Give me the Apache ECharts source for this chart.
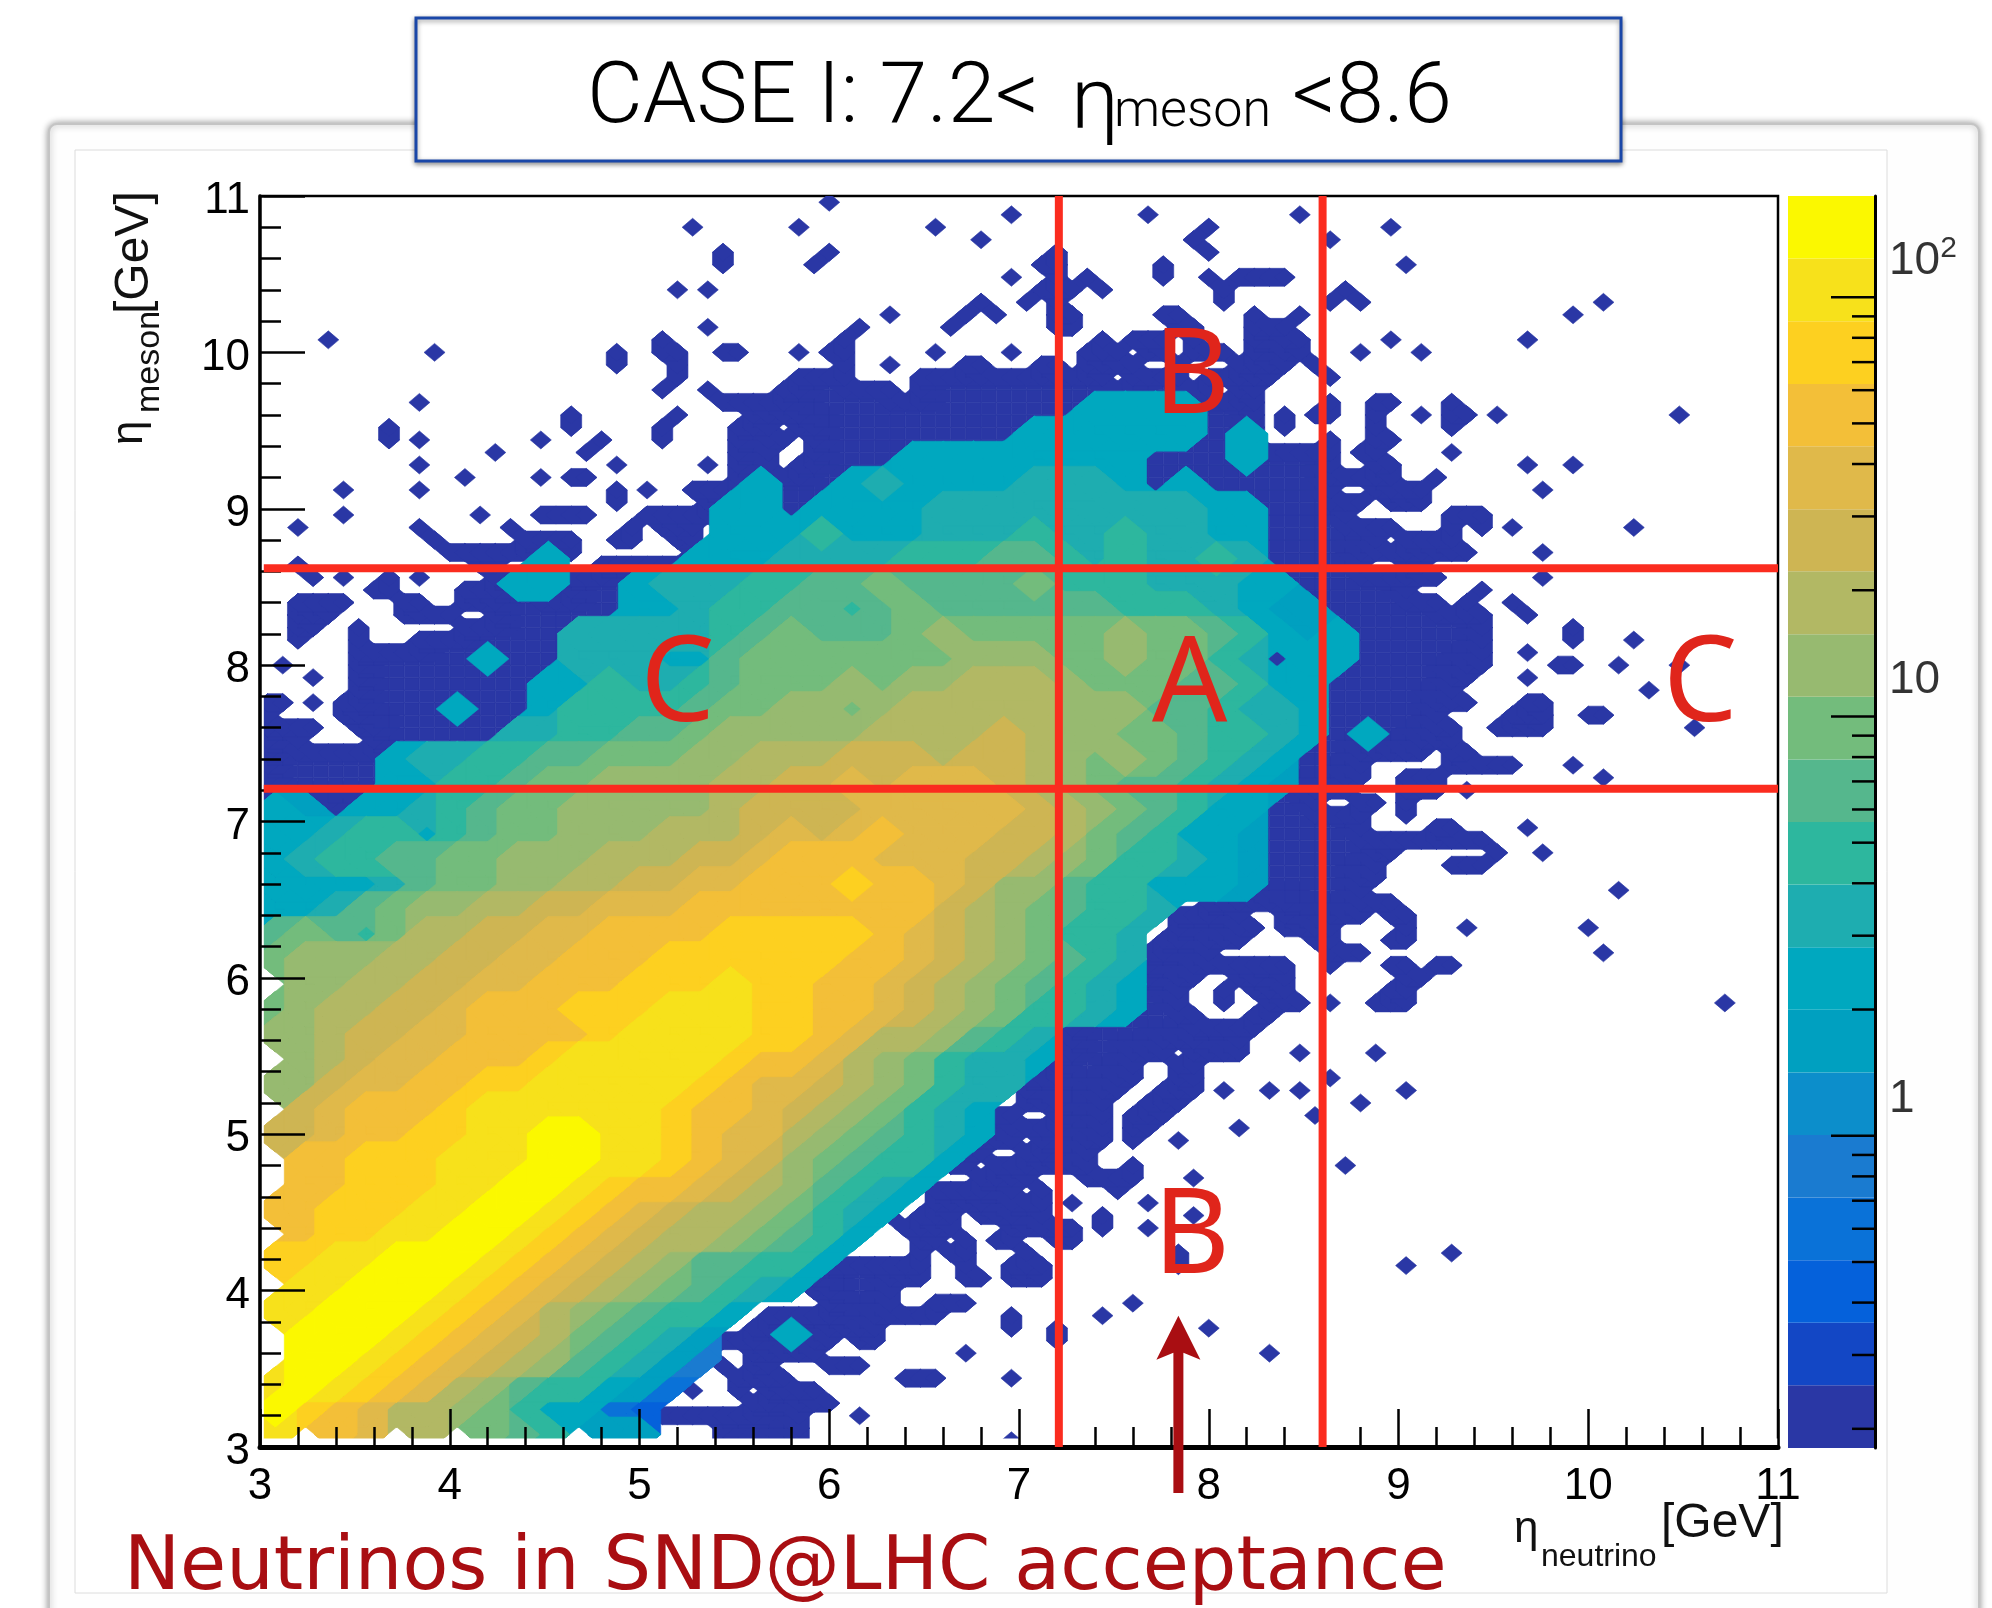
<!DOCTYPE html>
<html><head><meta charset="utf-8"><style>html,body{margin:0;padding:0;background:#fff}#c{width:1992px;height:1608px}</style>
<script src="https://cdn.jsdelivr.net/npm/echarts@6/dist/echarts.min.js"></script></head><body><div id="c"></div>
<script>
const bandColors=['#2a37a5','#1347c5','#0561db','#0a72d8','#1a7bd0','#0c8ecb','#00a0c0','#00a8bf','#1eadb0','#2db79e','#55b78d','#73bc7c','#97ba70','#b2b864','#ceb553','#e0b94a','#f3bf38','#fdd020','#f7e11b','#fbf800'];
const bandEdges=[0.18,0.254,0.358,0.505,0.712,1.004,1.416,1.997,2.816,3.972,5.6,7.9,11.14,15.71,22.2,31.2,44.1,62.1,87.6,123.6,174.3];
const colorMajorTicks=[1,10,100];
const colorMinorTicks=[0.2,0.3,0.4,0.5,0.6,0.7,0.8,0.9,2,3,4,5,6,7,8,9,20,30,40,50,60,70,80,90];
const colorLabels=[[1,'{a|1}'],[10,'{a|10}'],[100,'{a|10}{b|2}']];
// sparse, lowest-band bins (0.08 wide): "row:col,col-col"
const lowRows=["99:37","98:49,58,68","97:28,35,44,62,74","96:47,61,70","95:30,37,52,62","94:30,36,51-52,59,75","93:49,52,54,59,62,64-67","92:27,29,51-53,55,63,71","91:47,50,52,63,70,72,88","90:41,46,48,52-53,59-60,65,68,86","89:29,39,45,52-53,60-61,65-67","88:4,26,38,55,57-59,61,65-68,74,83","87:11,23,26-27,30-31,35,37-38,44,49,54-56,58-59,61-63,65-68,72,76","86:23,27,38,41,46-47,51-52,54-57,60,64-67,69","85:27,35-38,43-55,57-60,62-66,70","84:26,29,34-41,43-62,64-65","83:10,30-65,70,73-74,78","82:20,27,32-65,67,69-70,73,76,78-79,81,93","81:8,20,26,31-33,35-65,67,73,78","80:8,10,18,22,26,31-34,36-65,70,73-74","79:15,21,31-33,36-70,72-73,78","78:10,23,29,31-33,35-70,73-74,83,86","77:13,18,20-21,31-74,77","76:5,10,23,25,28-70,73-76,84","75:23,29-72,74-76","74:5,14,18-21,25-71,78-80","73:2,10,16,24,26-28,30-74,78,80,82,90","72:11,17-20,23-24,27-28,30-73,75-78","71:12-20,28-79,84","70:2,14-15,22-72,75-76","69:3,5,8,10,15-77,84","68:7-8,13-18,20-75,80","67:2-5,9-10,13-77,79,82","66:2-4,9-12,15-80,83","65:2-3,6,13-80,86","64:2,6,10-80,86,90","63:6-80,83","62:1,6-80,85-86,89,93","61:3,6-79,83","60:6-78,91","59:0-1,3,5-79,83-84","58:0,5-77,82-84,87-88","57:0-3,6-78,81-84,94","56:0-2,7-78","55:0-76,78-79","54:0-72,78-82,86","53:0-72,75-77,88","52:0-71,75-77,79","51:0-69,72-73,75","50:4-6,60-72,75","49:60-72,77-78,83","48:60-80","47:60-74,81,84","46:60-73,78-80","45:62-73","44:64-72,89","43:62-74","42:60-64,67-72,74-75","41:60-65,67-70,75,79,87","40:59-64,69-70,74-75","39:58-62,70-72,88","38:58-67,70,74-75,77-78","37:57-61,64-67,75-76","36:56-60,63,65-67,74-75","35:55-60,63,66-68,70,73-75,96","34:53-61,65-66","33:53-65","32:53-64","31:52-59,61-64,68,73","30:52-57,60-61","29:50-57,60-61,70","28:50-56,59-61,63,66,68,75","27:50-55,58-60,72","26:46-49,52-55,57-59,69","25:46-55,57-58,64","24:45-49,51-55,57,60","23:44-47,50-54","22:45-46,48-54,57,71","21:47-50,54-57,61","20:44-49,51,56","19:44-51,53,58","18:41,43-45,47-51,55,61","17:42-45,49-53,55,58","16:43-44,46,48-49,52-53","15:43,45-46,50,60,78","14:35-43,46,49-51,60,75","13:35-43,46-47,49-51","12:36-41","11:37-41,44-46,57","10:33-44,49,55","9:32-40,49,52,62","8:30-37,39-40,52","7:29,32-36,46,66","6:30,32-33,37-39","5:31-34,42-44,49","4:28,31,33-36","3:32-37","2:24,26-35,39","1:24,30-35","0:24,30-35,49"];
// dense bins (0.16 wide), top row first; letter = band number (a=1 ... t=20), '.' = none
const coreRows=[
".......... .......... .......hhh h",
".......... .......... .....hhhhh h.h",
".......... .......... .hhhhhhhh. ..h",
".......... ......h..h ihhhhiiih. h",
".......... .....hh.hh hhiiiiiiii ihh",
".......... .....hhhjh hhiiijiiji ihh",
".........h ....hhhiii ijjjkkjiji iji",
"........hh ..hiiijjkk lkkkkljjji iihh",
".......... ..hhijjkkj klkkkkkkjj jihgg",
".......... iiiiijklkk klmlllllml lkjhgh",
".......h.. iiihhkllll lllmmmllml lji.hh",
".........h hjiijklllm lmmnnnmlll kkjhh",
"......h..h jjjjkllmml mnnnnnmmmk kjiih",
"........ii jjkklmmmmm nnnnonmmll kjjih.h",
"....hiijjk klllmmnnno oonoonmlml kjih",
"....hhjjkl lmmmmnnoop oppponmlkk jihg",
"hg.hhijkll mmmmmnoooo ppppponmlk jhh",
"hhijjhjkll mmmnnnopop qpppoonlkj hhg",
"hijjkkllmm mnnnoopqqq pppoonmljj ihg",
"hhhhikllmm nnoopp qqqr qqpommkjjh hhg",
"hhiklmmnno opppqqqqqq qqonmlkjji",
"klkjlnnoop pqqqqrrrrr qponmljji.",
"lmmmnnoopp qqqrrrrrrq qponmlkji.",
".mmnnooppq qqrrrsrrqq ponmlkjih.",
"lmnnoopqqq rrrsssrrqq ponmljjih.",
"mmnooppqqq qrssssrrqp nnmkji....",
".mnoppqqqr sssssrqqpn mljiih....",
"mmoppqqrrs ssssrqppon mljii.....",
".opqqqrsss sssrqqponm ljih......",
"oopqqrrsst tssrqppnml kjih......",
".qqrrrssst tssrqpomlk jjh.......",
".qqrrrsstt srqqponmkj ih........",
"qqrrrsstts rqponnmlji h.........",
".qrrssttsr qponnmlkjh",
"rrsstttsrq ponmkkjjh.",
".sstttsrqp onmlkjih..",
"sstttsrqpn mlkjjh....",
".tttsrqpon lkjig..h..",
".ttsrqponm kjige.....",
"stsrqpnmkj jhgd......",
"trqpnnmljh hdc.......",
"s.qp.n.lkj .gg......."];
const xTicks=[3,11], yTicks=[3,11];
const redH=[8.62,7.21], redV=[7.21,8.6];
const letters=['B','B','A','C','C'], letterX=[7.91,7.91,7.9,5.2,10.59], letterY=[9.83,4.33,7.86,7.86,7.86];
const arrowTip=[7.84,3.84], arrowBase=[7.84,2.706];
const edgeMask=[[3,3,11,3.055],[3,3,3.02,11]];

const shapes=[];
function addRegion(get,nc,nr,cell,rx,ry,constant){
  const on=(i,j)=>(i>=0&&j>=0&&i<nc&&j<nr)?get(i,j):0;
  for(let j=0;j<nr;j++)for(let i=0;i<nc;i++){
    const v=on(i,j); if(!v)continue;
    const cx=i2=>3+cell*(i2+.5), cy=j2=>3+cell*(j2+.5);
    let inner=constant;
    if(inner){for(let a=-1;a<=1;a++)for(let b=-1;b<=1;b++)if(!on(i+a,j+b))inner=false;}
    if(!inner)shapes.push([cx(i),cy(j),cx(i),cy(j),rx,ry,v,0]);
    [[1,0],[0,1],[1,1],[-1,1]].forEach(d=>{
      const w=on(i+d[0],j+d[1]); if(!w||inner)return;
      shapes.push([cx(i),cy(j),cx(i+d[0]),cy(j+d[1]),rx,ry,Math.min(v,w),0]);
    });
    const a=on(i+1,j),b=on(i,j+1),c=on(i+1,j+1);
    if(a&&b&&c)shapes.push([cx(i),cy(j),cx(i+1),cy(j+1),0,0,Math.min(v,a,b,c),1]);
  }
}
const lowSet=new Set();
lowRows.forEach(r=>{const [j,rest]=r.split(':');rest.split(',').forEach(t=>{const [a,b]=t.split('-').map(Number);for(let i=a;i<=(b===undefined?a:b);i++)lowSet.add(i+j*100);});});
addRegion((i,j)=>lowSet.has(i+j*100)?1:0,100,100,0.08,0.0553,0.0575,true);
const coreClean=coreRows.map(r=>r.replace(/ /g,''));
const coreTop=coreClean.length-1;
addRegion((i,j)=>{if(j>coreTop)return 0;const ch=coreClean[coreTop-j][i];return(!ch||ch==='.')?0:ch.charCodeAt(0)-96;},50,50,0.16,0.112,0.112,false);
shapes.sort((p,q)=>p[6]-q[6]);

function hull(pts){
  pts=pts.slice().sort((a,b)=>a[0]-b[0]||a[1]-b[1]);
  const cr=(o,a,b)=>(a[0]-o[0])*(b[1]-o[1])-(a[1]-o[1])*(b[0]-o[0]);
  const lo=[],up=[];
  pts.forEach(p=>{while(lo.length>1&&cr(lo[lo.length-2],lo[lo.length-1],p)<=0)lo.pop();lo.push(p);});
  pts.slice().reverse().forEach(p=>{while(up.length>1&&cr(up[up.length-2],up[up.length-1],p)<=0)up.pop();up.push(p);});
  lo.pop();up.pop();return lo.concat(up);
}
function renderShape(params,api){
  const x0=api.value(0),y0=api.value(1),x1=api.value(2),y1=api.value(3),rx=api.value(4),ry=api.value(5),lv=api.value(6),kind=api.value(7);
  const col=bandColors[lv-1];
  let pts;
  if(kind===1){pts=[[x0,y0],[x1,y0],[x1,y1],[x0,y1]].map(p=>api.coord(p));}
  else{
    const raw=[];
    [[x0,y0],[x1,y1]].forEach(c=>{raw.push([c[0]-rx,c[1]],[c[0]+rx,c[1]],[c[0],c[1]-ry],[c[0],c[1]+ry]);});
    pts=hull(raw.map(p=>api.coord(p)));
  }
  return {type:'polygon',shape:{points:pts},style:{fill:col,stroke:col,lineWidth:0.6},silent:true};
}
function text(t,x,y,size,opt){
  opt=opt||{};
  return {type:'text',x:x,y:y,rotation:opt.rot||0,z:opt.z||20,silent:true,style:{text:t,fontSize:size,fontFamily:opt.font||'"Liberation Sans"',fontWeight:opt.weight||'normal',fill:opt.color||'#111',align:opt.align||'left',verticalAlign:'middle'}};
}
const graphics=[
 {type:'rect',z:-5,silent:true,shape:{x:49,y:124,width:1930,height:1600,r:8},style:{fill:'#fefefe',stroke:'#c4c4c4',lineWidth:2,shadowBlur:7,shadowColor:'rgba(0,0,0,.4)'}},
 {type:'rect',z:-4,silent:true,shape:{x:75,y:150,width:1812,height:1443},style:{fill:'#fff',stroke:'#dcdcdc',lineWidth:1}},
 {type:'rect',z:15,silent:true,shape:{x:416,y:18,width:1205,height:143},style:{fill:'#fff',stroke:'#1a47a8',lineWidth:3,shadowBlur:5,shadowOffsetY:2,shadowColor:'rgba(0,0,0,.4)'}},
 text('CASE I: 7.2<',587,100,86,{font:'Roboto',weight:300,color:'#000'}),
 text('η',1071,106,86,{font:'Roboto',weight:300,color:'#000'}),
 text('meson',1114,113,52,{font:'Roboto',weight:300,color:'#000'}),
 text('<8.6',1292,100,86,{font:'Roboto',weight:300,color:'#000'}),
 text('Neutrinos in SND@LHC acceptance',124,1570,75,{font:'"DejaVu Sans"',color:'#a90e12'}),
 text('η',1514,1530,44),
 text('neutrino',1541,1557,32),
 text('[GeV]',1661,1524,48),
 text('[GeV]',135,314,48,{rot:Math.PI/2}),
 text('meson',150,413,34,{rot:Math.PI/2}),
 text('η',130,445,44,{rot:Math.PI/2})
];
const axisCommon={type:'value',min:3,max:11,interval:1,z:5,splitLine:{show:false},
  axisLabel:{fontFamily:'"Liberation Sans"',fontSize:44,color:'#111',margin:14,showMinLabel:true,showMaxLabel:true},
  axisTick:{inside:true,lineStyle:{color:'#000',width:2.5}},
  minorTick:{show:true,splitNumber:5,lineStyle:{color:'#000',width:2.5}}};
const series=[
 {type:'custom',xAxisIndex:0,yAxisIndex:0,z:2,clip:true,silent:true,animation:false,progressive:0,renderItem:renderShape,encode:{x:[0,2],y:[1,3]},data:shapes},
 {type:'custom',xAxisIndex:0,yAxisIndex:0,z:3,clip:true,silent:true,animation:false,encode:{x:[0,2],y:[1,3]},data:edgeMask,renderItem:(p,api)=>{const a=api.coord([api.value(0),api.value(1)]),b=api.coord([api.value(2),api.value(3)]);return{type:'rect',shape:{x:a[0],y:b[1],width:b[0]-a[0],height:a[1]-b[1]},style:{fill:'#fff'}};}},
 ...redH.map(v=>({type:'line',xAxisIndex:0,yAxisIndex:0,z:6,silent:true,animation:false,showSymbol:false,symbol:'none',clip:false,lineStyle:{color:'#fb2c1f',width:8},data:[[3.02,v],[11,v]]})),
 ...redV.map(v=>({type:'line',xAxisIndex:0,yAxisIndex:0,z:6,silent:true,animation:false,showSymbol:false,symbol:'none',clip:false,lineStyle:{color:'#fb2c1f',width:8},data:[[v,3],[v,11]]})),
 {type:'scatter',xAxisIndex:0,yAxisIndex:0,z:8,silent:true,animation:false,symbolSize:0,itemStyle:{color:'#e0251b'},clip:false,
  data:letters.map((t,i)=>[letterX[i],letterY[i],t]),
  label:{show:true,position:'inside',formatter:p=>p.data[2],fontFamily:'"Noto Sans"',fontSize:118,color:'#e0251b',textBorderWidth:0,textBorderColor:'transparent',opacity:1}},
 {type:'custom',xAxisIndex:0,yAxisIndex:0,z:7,clip:false,silent:true,animation:false,encode:{x:[0,2],y:[1,3]},data:[[arrowTip[0],arrowTip[1],arrowBase[0],arrowBase[1]]],
  renderItem:(p,api)=>{const t=api.coord([api.value(0),api.value(1)]),b=api.coord([api.value(2),api.value(3)]);const x=t[0],y=t[1];
   return{type:'polygon',shape:{points:[[x,y],[x+22,y+44],[x+5,y+37],[x+5,b[1]],[x-5,b[1]],[x-5,y+37],[x-22,y+44]]},style:{fill:'#a90e12'}};}},
 {type:'custom',xAxisIndex:1,yAxisIndex:1,z:2,clip:false,silent:true,animation:false,encode:{x:0,y:[1,2]},
  data:bandColors.map((c,k)=>[0,bandEdges[k],bandEdges[k+1],k]),
  renderItem:(p,api)=>{const a=api.coord([0,api.value(1)]),b=api.coord([1,api.value(2)]);return{type:'rect',shape:{x:a[0],y:b[1],width:b[0]-a[0],height:a[1]-b[1]},style:{fill:bandColors[api.value(3)]}};}},
 {type:'custom',xAxisIndex:1,yAxisIndex:1,z:4,clip:false,silent:true,animation:false,encode:{x:0,y:1},
  data:colorMajorTicks.map(v=>[1,v,44]).concat(colorMinorTicks.map(v=>[1,v,23])),
  renderItem:(p,api)=>{const a=api.coord([1,api.value(1)]);return{type:'line',shape:{x1:a[0],y1:a[1],x2:a[0]-api.value(2),y2:a[1]},style:{stroke:'#000',lineWidth:2.5}};}},
 {type:'scatter',xAxisIndex:1,yAxisIndex:1,z:4,silent:true,animation:false,symbolSize:0,itemStyle:{color:'#000'},clip:false,
  data:colorLabels.map(c=>[1,c[0],c[1]]),
  label:{show:true,position:'right',distance:14,offset:[0,-36],formatter:p=>p.data[2],
   rich:{a:{fontFamily:'"Liberation Sans"',fontSize:46,color:'#000'},b:{fontFamily:'"Liberation Sans"',fontSize:30,color:'#000',padding:[0,0,24,0]}}}}
];
const chart=echarts.init(document.getElementById('c'),null,{renderer:'canvas',width:1992,height:1608});
const xLab=Object.assign({},axisCommon.axisLabel,{margin:18,color:'#000'});
const yLab=Object.assign({},axisCommon.axisLabel,{margin:10,color:'#000',formatter:'{a|{value}}',rich:{a:{fontFamily:'"Liberation Sans"',fontSize:44,color:'#000',padding:[10,0,0,0]}}});
chart.setOption({
 backgroundColor:'#fff',animation:false,graphic:graphics,
 grid:[{left:260,top:196,width:1518,height:1251,show:true,borderColor:'#000',borderWidth:2.5,backgroundColor:'#fff',z:1},
       {left:1788,top:196,width:87,height:1252,show:false}],
 xAxis:[Object.assign({},axisCommon,{min:xTicks[0],max:xTicks[1],gridIndex:0,axisLabel:xLab,axisLine:{onZero:false,lineStyle:{color:'#000',width:5}},axisTick:Object.assign({},axisCommon.axisTick,{length:38}),minorTick:Object.assign({},axisCommon.minorTick,{length:20})}),
        {type:'value',gridIndex:1,min:0,max:1,show:false}],
 yAxis:[Object.assign({},axisCommon,{min:yTicks[0],max:yTicks[1],gridIndex:0,axisLabel:yLab,axisLine:{onZero:false,lineStyle:{color:'#000',width:3.5}},axisTick:Object.assign({},axisCommon.axisTick,{length:45}),minorTick:Object.assign({},axisCommon.minorTick,{length:21})}),
        {type:'log',gridIndex:1,logBase:10,min:0.18,max:174.3,position:'right',z:5,splitLine:{show:false},axisLabel:{show:false},axisTick:{show:false},axisLine:{show:true,onZero:false,lineStyle:{color:'#000',width:3}}}],
 series:series
});
</script></body></html>
